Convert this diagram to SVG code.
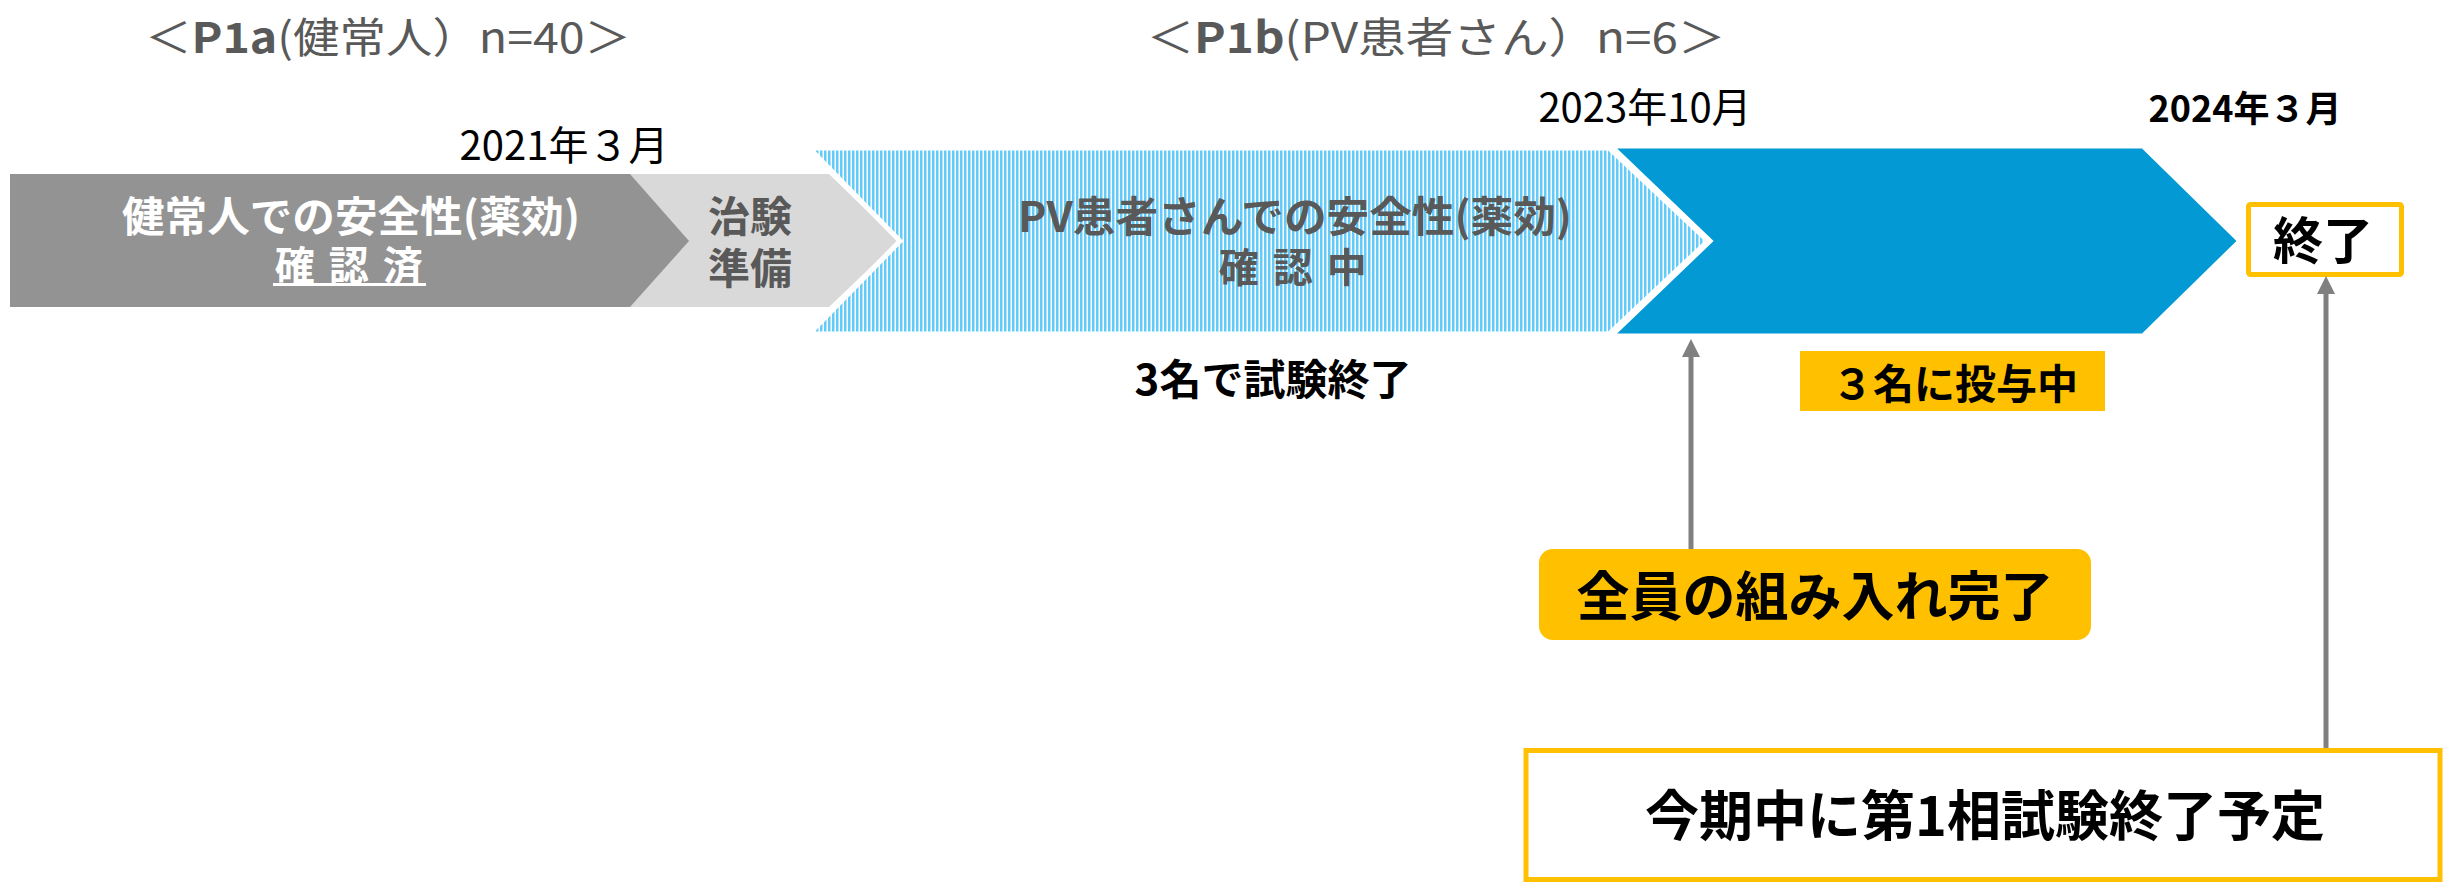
<svg xmlns="http://www.w3.org/2000/svg" width="2444" height="889" viewBox="0 0 2444 889">
<style>
text{font-family:"Noto Sans CJK JP","Noto Sans",sans-serif;dominant-baseline:central;text-anchor:middle}
.b{font-weight:bold}
.g{fill:#595959}
.k{fill:#000}
.w{fill:#fff}
.conn line{stroke:#808080;stroke-width:5}
</style>
<defs>
<pattern id="hatch" width="4" height="10" patternUnits="userSpaceOnUse">
<rect width="4" height="10" fill="#fff"/>
<rect width="2.5" height="10" fill="#62CBFA"/>
</pattern>
<marker id="ah" viewBox="0 0 10 10" refX="0" refY="5" markerWidth="18" markerHeight="18" markerUnits="userSpaceOnUse" orient="auto">
<path d="M0,0 L10,5 L0,10 z" fill="#808080"/>
</marker>
</defs>
<rect width="2444" height="889" fill="#fff"/>

<g id="title1">
<text x="388" y="34" class="g" font-size="42" textLength="486" lengthAdjust="spacingAndGlyphs">＜<tspan class="b">P1a</tspan>(健常人）n=40＞</text>
</g>
<g id="title2">
<text x="1436" y="34" class="g" font-size="42" textLength="579" lengthAdjust="spacingAndGlyphs">＜<tspan class="b">P1b</tspan>(PV患者さん）n=6＞</text>
</g>
<g id="date1"><text x="564" y="143" class="k" font-size="40">2021年３月</text></g>
<g id="date2"><text x="1645" y="105" class="k" font-size="40">2023年10月</text></g>
<g id="date3"><text x="2245" y="106" class="k b" font-size="36">2024年３月</text></g>

<g id="prep">
<polygon points="630,174 829,174 898,241 829,307 630,307" fill="#D9D9D9"/>
<text class="g b" font-size="42"><tspan x="750" y="213">治験</tspan><tspan x="750" y="265">準備</tspan></text>
</g>
<g id="p1a">
<polygon points="10,174 630,174 689,241 630,307 10,307" fill="#939393"/>
<text class="w b" font-size="42"><tspan x="351" y="213" textLength="458" lengthAdjust="spacingAndGlyphs">健常人での安全性(薬効)</tspan><tspan x="350" y="263" font-size="40" letter-spacing="2.5" xml:space="preserve">確 認 済</tspan></text>
<rect x="273" y="283" width="153" height="3" fill="#fff"/>
</g>
<g id="p1b-hatched">
<polygon points="809,148 1609,148 1708,241 1609,334 809,334 900,241" fill="url(#hatch)" stroke="#fff" stroke-width="5" stroke-linejoin="miter"/>
<text class="g b" font-size="42"><tspan x="1295" y="213" textLength="554" lengthAdjust="spacingAndGlyphs">PV患者さんでの安全性(薬効)</tspan><tspan x="1294" y="265" font-size="40" letter-spacing="2.5" xml:space="preserve">確 認 中</tspan></text>
</g>
<g id="p1b-solid">
<polygon points="1611,146 2143,146 2240,241 2143,336 1611,336 1710,241" fill="#0399D4" stroke="#fff" stroke-width="5"/>
</g>
<g id="note1"><text x="1273" y="376" class="k b" font-size="42">3名で試験終了</text></g>
<g id="dosing">
<rect x="1800" y="351" width="305" height="60" fill="#FFC000"/>
<text x="1955" y="381" class="k b" font-size="41">３名に投与中</text>
</g>
<g id="end">
<rect x="2248.5" y="204.5" width="153" height="70" fill="#fff" stroke="#FFC000" stroke-width="5" rx="2"/>
<text x="2323" y="237" class="k b" font-size="50">終了</text>
</g>
<g id="enrolled">
<rect x="1539" y="549" width="552" height="91" rx="14" fill="#FFC000"/>
<text x="1815" y="593" class="k b" font-size="53">全員の組み入れ完了</text>
</g>
<g id="plan">
<rect x="1526" y="750.5" width="914" height="129" fill="#fff" stroke="#FFC000" stroke-width="5"/>
<text x="1985" y="812" class="k b" font-size="54">今期中に第1相試験終了予定</text>
</g>
<g class="conn" id="connectors">
<line x1="1691" y1="549" x2="1691" y2="357" marker-end="url(#ah)"/>
<line x1="2326" y1="748" x2="2326" y2="294" marker-end="url(#ah)"/>
</g>
</svg>
